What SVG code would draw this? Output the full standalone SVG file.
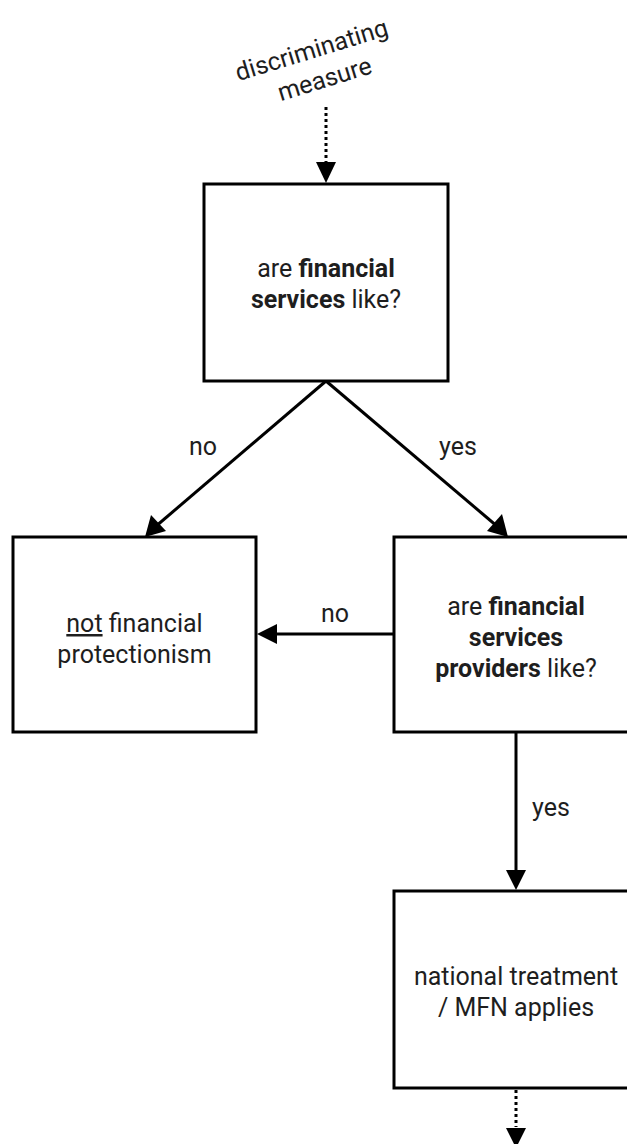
<svg xmlns="http://www.w3.org/2000/svg" width="627" height="1144" viewBox="0 0 627 1144">
<style>
.box{fill:#fff;stroke:#000;stroke-width:3}
.t{font-family:Roboto,"Liberation Sans",sans-serif;font-size:25px;fill:#1e1e1e;text-anchor:middle}
.b{font-weight:bold}
.ln{fill:none;stroke:#000;stroke-width:3}
.dot{fill:none;stroke:#000;stroke-width:3;stroke-dasharray:3 3}
.ah{fill:#000}
</style>
<rect width="627" height="1144" fill="#fff"/>
<g id="connectors">
<path class="dot" d="M326 107 V163"/>
<polygon class="ah" points="316,162 336,162 326,183"/>
<path class="ln" d="M326 381 L155 527"/>
<polygon class="ah" points="145,537 151,515 166,531"/>
<path class="ln" d="M326 381 L498 527"/>
<polygon class="ah" points="508,537 487,531 502,514"/>
<path class="ln" d="M393 634 H276"/>
<polygon class="ah" points="257,634 277,624 277,644"/>
<path class="ln" d="M516 732 V871"/>
<polygon class="ah" points="506,870 526,870 516,890"/>
<path class="dot" d="M516 1090 V1127"/>
<polygon class="ah" points="506,1128 526,1128 516,1148"/>
<text class="t" x="203" y="455">no</text>
<text class="t" x="458" y="455">yes</text>
<text class="t" x="335" y="622">no</text>
<text class="t" x="551" y="816">yes</text>
</g>
<g id="start-label">
<text class="t" transform="translate(314,58) rotate(-17)">discriminating</text>
<text class="t" transform="translate(327,87) rotate(-17)">measure</text>
</g>
<g id="node-services">
<rect class="box" x="204" y="184" width="244" height="197"/>
<text class="t" x="326" y="277">are <tspan class="b">financial</tspan></text>
<text class="t" x="326" y="308"><tspan class="b">services</tspan> like?</text>
</g>
<g id="node-not">
<rect class="box" x="13" y="537" width="243" height="195"/>
<text class="t" x="134.5" y="632"><tspan text-decoration="underline">not</tspan> financial</text>
<text class="t" x="134.5" y="663">protectionism</text>
</g>
<g id="node-providers">
<rect class="box" x="394" y="537" width="243" height="195"/>
<text class="t" x="516" y="615">are <tspan class="b">financial</tspan></text>
<text class="t b" x="516" y="646">services</text>
<text class="t" x="516" y="677"><tspan class="b">providers</tspan> like?</text>
</g>
<g id="node-national">
<rect class="box" x="394" y="891" width="243" height="197"/>
<text class="t" x="516" y="985">national treatment</text>
<text class="t" x="516" y="1016">/ MFN applies</text>
</g>
</svg>
